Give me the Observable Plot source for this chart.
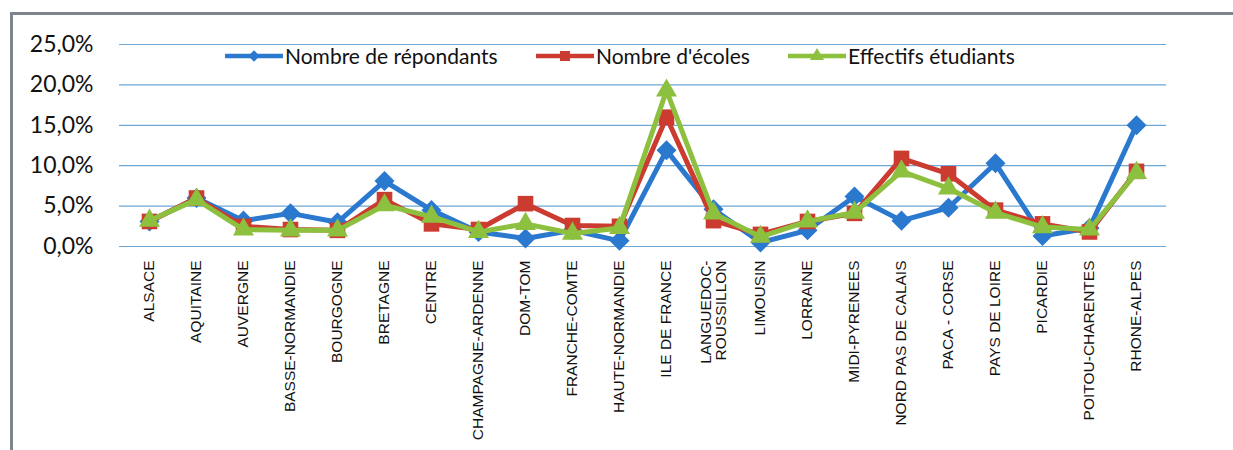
<!DOCTYPE html>
<html>
<head>
<meta charset="utf-8">
<script src="https://cdn.jsdelivr.net/npm/d3@7"></script>
<script src="https://cdn.jsdelivr.net/npm/@observablehq/plot@0.6"></script>
<style>
  html, body { margin: 0; padding: 0; background: #fff; }
  #wrap { position: relative; width: 1233px; height: 450px; overflow: hidden; }
  #frame { position: absolute; left: 10px; top: 12px; right: -10px; bottom: -10px;
           border-left: 3px solid #7d848b; border-top: 3px solid #7d848b; pointer-events: none; }
  #chart { position: absolute; left: 0; top: 0; }
  .leg { position: absolute; top: 43px; display: flex; align-items: center;
         font-family: Lato, "Open Sans", sans-serif; font-size: 21px; color: #111; white-space: nowrap; }
  .leg svg { display: block; margin-right: 2px; }
</style>
</head>
<body>
<div id="wrap">
  <div id="chart"></div>
  <div id="frame"></div>
</div>
<script>
const regions = ["ALSACE","AQUITAINE","AUVERGNE","BASSE-NORMANDIE","BOURGOGNE","BRETAGNE","CENTRE",
  "CHAMPAGNE-ARDENNE","DOM-TOM","FRANCHE-COMTE","HAUTE-NORMANDIE","ILE DE FRANCE","LANGUEDOC-ROUSSILLON",
  "LIMOUSIN","LORRAINE","MIDI-PYRENEES","NORD PAS DE CALAIS","PACA - CORSE","PAYS DE LOIRE","PICARDIE",
  "POITOU-CHARENTES","RHONE-ALPES"];
const repondants = [3.1, 6.0, 3.2, 4.1, 3.0, 8.1, 4.5, 1.8, 1.0, 2.0, 0.7, 11.9, 4.6, 0.5, 2.0, 6.2, 3.2, 4.8, 10.3, 1.3, 2.3, 15.0];
const ecoles     = [3.1, 6.0, 2.5, 2.1, 2.0, 5.8, 2.8, 2.1, 5.3, 2.6, 2.5, 16.0, 3.2, 1.5, 3.1, 4.1, 10.9, 9.0, 4.5, 2.8, 1.8, 9.3];
const effectifs  = [3.2, 5.8, 2.1, 2.0, 2.0, 5.1, 3.7, 1.8, 2.8, 1.6, 2.3, 19.3, 4.1, 1.2, 3.1, 4.2, 9.3, 7.2, 4.2, 2.4, 2.1, 9.1];
const yTicks = [0, 5, 10, 15, 20, 25];
const seriesNames = ["Nombre de répondants", "Nombre d'écoles", "Effectifs étudiants"];
const seriesColors = ["#2b78cf", "#cc3b30", "#8cc03e"];

const seriesValues = [repondants, ecoles, effectifs];
const tables = seriesValues.map((vals, i) => regions.map((r, j) => ({region: r, value: vals[j], series: seriesNames[i]})));

const symbolOpts = [
  {symbol: "square", r: 8.0, rotate: 45},
  {symbol: "square", r: 8.8, rotate: 0},
  {symbol: "triangle", r: 7.8, rotate: 0}
];

const seriesMarks = tables.flatMap((t, i) => [
  Plot.line(t, {x: "region", y: "value", stroke: seriesColors[i], strokeWidth: 5, strokeLinejoin: "round"}),
  Plot.dot(t, {x: "region", y: "value", fill: seriesColors[i], stroke: "none", ...symbolOpts[i]})
]);

const chart = Plot.plot({
  width: 1233,
  height: 450,
  marginLeft: 119,
  marginRight: 67,
  marginTop: 44,
  marginBottom: 204,
  style: {background: "transparent"},
  x: {type: "point", domain: regions, padding: 0.5, label: null},
  y: {domain: [0, 25], label: null},
  marks: [
    Plot.gridY(yTicks, {stroke: "#6ea7d4", strokeOpacity: 1, strokeWidth: 1.2}),
    Plot.axisY(yTicks, {tickSize: 0, tickPadding: 26, fontSize: 23, fontFamily: "Lato, 'Open Sans', sans-serif",
      fill: "#111", label: null, tickFormat: d => d.toFixed(1).replace(".", ",") + "%"}),
    Plot.axisX({tickSize: 0, tickRotate: -90, tickPadding: 14, fontSize: 15.5,
      fontFamily: "'Liberation Sans', Arial, sans-serif", fill: "#111", label: null,
      tickFormat: d => d === "LANGUEDOC-ROUSSILLON" ? "LANGUEDOC-\nROUSSILLON" : d}),
    ...seriesMarks
  ]
});
document.getElementById("chart").appendChild(chart);

// legend (inside the plot area, top)
const legendLeft = [225, 536, 788];
const wrap = document.getElementById("wrap");
seriesNames.forEach((name, i) => {
  const div = document.createElement("div");
  div.className = "leg";
  div.style.left = legendLeft[i] + "px";
  const svg = d3.create("svg").attr("width", 58).attr("height", 24);
  svg.append("line").attr("x1", 0).attr("x2", 58).attr("y1", 12).attr("y2", 12)
    .attr("stroke", seriesColors[i]).attr("stroke-width", 4.5);
  const sym = i === 2 ? d3.symbolTriangle : d3.symbolSquare;
  const size = i === 0 ? 64 : i === 1 ? 100 : 85;
  svg.append("path").attr("d", d3.symbol(sym, size)())
    .attr("transform", `translate(29,12) rotate(${i === 0 ? 45 : 0})`)
    .attr("fill", seriesColors[i]);
  div.appendChild(svg.node());
  const span = document.createElement("span");
  span.textContent = name;
  div.appendChild(span);
  wrap.appendChild(div);
});
</script>
</body>
</html>
